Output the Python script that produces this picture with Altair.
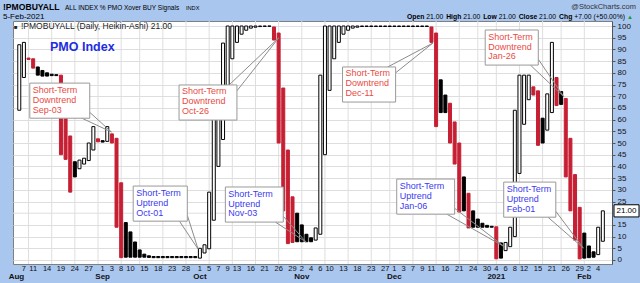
import altair as alt
import pandas as pd

FONT = "Liberation Sans"
RED = "#c61f33"
ANN_RED = "#ea4a3f"
ANN_BLUE = "#3b3bef"
BG = "#a9c6ef"
GRID = "#dedede"

W, H = 599, 243
PAD_L, PAD_T, PAD_R, PAD_B = 13, 21, 28, 19

# ---------------- data (Heikin-Ashi open / close, kind: H hollow, R red, B black) -------------
aug_dates = [6, 7, 10, 11, 12, 13, 14, 17, 18, 19, 20, 21, 24, 25, 26, 27, 28, 31]
aug_open = [64, 78, 86.3, 86, 82.5, 81, 80, 79.4, 79.2, 79, 62, 53, 42, 39, 41, 42.5, 47, 51.8]
aug_close = [92, 93, 85.7, 82, 79, 78.6, 78.6, 78.8, 78.8, 45, 43, 29, 35.5, 42.7, 43.5, 50, 57, 50.5]
aug_kind = "HHRRBBBBBRRRBHHHHR"

sep_dates = [1, 2, 3, 4, 8, 9, 10, 11, 14, 15, 16, 17, 18, 21, 22, 23, 24, 25, 28, 29, 30]
sep_open = [51, 50.7, 53.9, 52, 33, 16, 12, 7.7, 4.3, 2.5, 1.8, 1.5, 1.5, 1.5, 1.5, 1.5, 1.5, 1.5, 1.5, 1.5, 1.5]
sep_close = [50.4, 57, 50, 14, 1, 1.2, 1.2, 1.2, 1.2, 1.2, 1.1, 1, 1, 1, 1, 1, 1, 1, 1, 1, 1]
sep_kind = "BHRRRBBBBBBBBBBBBBBBB"

oct_dates = [1, 2, 5, 6, 7, 8, 9, 12, 13, 14, 15, 16, 19, 20, 21, 22, 23, 26, 27, 28, 29, 30]
oct_open = [0.8, 3, 4.8, 17, 40, 51.5, 72, 86, 93, 96.5, 98.2, 99.1, 99.5, 99.75, 99.85, 99.9, 99.6, 97, 73.5, 47, 27, 20]
oct_close = [5, 6.5, 29, 63, 63, 92.7, 100, 100, 100, 100, 100, 100, 100, 100, 100, 100, 94, 50, 21, 7, 7.5, 7.8]
oct_kind = "HHHHHHHHHHHHHHBBRRRRRB"

nov_dates = [2, 3, 4, 5, 6, 9, 10, 11, 12, 13, 16, 17, 18, 19, 20, 23, 24, 25, 27, 30]
nov_open = [15, 11, 9.5, 8.5, 11, 45, 72.5, 86, 93, 96.5, 98.2, 99.1, 99.5, 99.8, 99.8, 99.8, 99.8, 99.8, 99.8, 99.8]
nov_close = [7.8, 7.8, 7.8, 13.7, 79, 100, 100, 100, 100, 100, 100, 100, 100, 100, 100, 100, 100, 100, 100, 100]
nov_kind = "BBBHHHHHHHHHHBBBBBBB"

dec_dates = [1, 2, 3, 4, 7, 8, 9, 10, 11, 14, 15, 16, 17, 18, 21, 22, 23, 24, 28, 29, 30, 31]
dec_open = [99.8, 99.8, 99.8, 99.8, 99.8, 99.8, 99.8, 99.8, 99.6, 97, 77, 70.5, 67, 59, 50, 35.5, 28.5, 21, 17.5, 15.7, 14.8, 14.4]
dec_close = [100, 100, 100, 100, 100, 100, 100, 100, 93, 57, 63, 63, 50, 41, 20.5, 21, 13.7, 14, 14, 14, 14, 14]
dec_kind = "BBBBBBBBRRBBRRRBRBBBBB"

jan_dates = [4, 5, 6, 7, 8, 11, 12, 13, 14, 15, 19, 20, 21, 22, 25, 26, 27, 28, 29]
jan_open = [14.2, 7.3, 4, 5.7, 10, 37, 58, 68.5, 74, 72.3, 60.6, 55.5, 63, 78, 72, 69, 52, 36.5, 22.5]
jan_close = [0.5, 0.8, 7.5, 14, 64, 79, 79, 79, 70.5, 49, 50, 71, 93, 66, 66.5, 35.5, 21, 8.5, 0.5]
jan_kind = "RBHHHHHHRRBHHRBRRRR"

feb_dates = [1, 2, 3, 4, 5]
feb_open = [11.5, 6, 3.5, 2.3, 8]
feb_close = [0.8, 1, 1.2, 14, 21]
feb_kind = "BBBHH"

tick_days = {
    "Aug": [7, 11, 14, 19, 24, 27],
    "Sep": [1, 3, 8, 10, 15, 18, 23, 28],
    "Oct": [1, 5, 7, 9, 13, 16, 21, 26, 29],
    "Nov": [2, 4, 6, 10, 13, 18, 23, 27],
    "Dec": [1, 3, 7, 9, 11, 16, 21, 24, 30],
    "Jan": [4, 6, 8, 12, 15, 21, 26, 29],
    "Feb": [2, 4],
}
month_names = {"Aug": "Aug", "Sep": "Sep", "Oct": "Oct", "Nov": "Nov", "Dec": "Dec", "Jan": "2021", "Feb": "Feb"}
y_ticks = [0, 5, 10, 15, 25, 30, 35, 40, 45, 50, 55, 60, 65, 70, 75, 80, 85, 90, 95, 100]

ann_date = ["Sep-03", "Oct-01", "Oct-26", "Nov-03", "Dec-11", "Jan-06", "Jan-26", "Feb-01"]
ann_trend = ["Downtrend", "Uptrend", "Downtrend", "Uptrend", "Downtrend", "Uptrend", "Downtrend", "Uptrend"]
ann_left = [1.27, 23.6, 33.5, 43.5, 68.8, 80.5, 99.6, 103.6]
ann_top = [75.6, 31.6, 74.8, 31.2, 82.5, 34.6, 98.3, 33.3]
ann_width = [12.95, 11.68, 12.5, 12.5, 11.46, 12.5, 11.46, 11.25]
ann_corner = ["br", "br", "tr", "br", "tr", "br", "br", "br"]
ann_tip_i = [18.9, 37.6, 55.0, 60.9, 88.3, 103.8, 116.6, 120.8]
ann_tip_v = [54.7, 4.7, 94.9, 7.7, 92.7, 5.6, 69.7, 5.1]
BOX_H = 15.0

last_close = 21.0

# ---------------- tables ----------------
meta = [
    ("Aug", 2020, 8, aug_dates, aug_open, aug_close, aug_kind),
    ("Sep", 2020, 9, sep_dates, sep_open, sep_close, sep_kind),
    ("Oct", 2020, 10, oct_dates, oct_open, oct_close, oct_kind),
    ("Nov", 2020, 11, nov_dates, nov_open, nov_close, nov_kind),
    ("Dec", 2020, 12, dec_dates, dec_open, dec_close, dec_kind),
    ("Jan", 2021, 1, jan_dates, jan_open, jan_close, jan_kind),
    ("Feb", 2021, 2, feb_dates, feb_open, feb_close, feb_kind),
]
rows = []
for mon, yr, mo, ds, op, cl, kd in meta:
    for d, o, c, k in zip(ds, op, cl, kd):
        rows.append(dict(mon=mon, day=d, date=pd.Timestamp(yr, mo, d), o=o, c=c, k=k))
df = pd.DataFrame(rows)
df["i"] = list(range(-1, len(df) - 1))
idx = {(m, d): i for m, d, i in zip(df["mon"], df["day"], df["i"])}

ticks_df = pd.DataFrame([{"i": idx[(m, d)], "lab": str(d)} for m, ds in tick_days.items() for d in ds])
first = df.groupby("mon", sort=False)["i"].min()
mpos = [float(v) for v in first.values]
mpos[0] = mpos[0] - 0.6   # "Aug" sits at the left edge
months_df = pd.DataFrame({"i": mpos, "lab": [month_names[m] for m in first.index]})
df["wk"] = df["date"].dt.isocalendar().week.astype(int)
weeks_df = df[df["wk"] != df["wk"].shift()].iloc[1:][["i"]]

boxes, ptrs, texts = [], [], []
for n in range(len(ann_date)):
    l, t, w = ann_left[n], ann_top[n], ann_width[n]
    r, b = l + w, t - BOX_H
    kind = "down" if ann_trend[n] == "Downtrend" else "up"
    boxes.append(dict(x=l, x2=r, y=t, y2=b))
    if ann_corner[n] == "br":
        pa, pb = (r - 1.7, b), (r, b + 2.5)
    else:
        pa, pb = (r - 1.7, t), (r, t - 2.5)
    for p in (pa, pb):
        ptrs.append(dict(x=p[0], y=p[1], x2=ann_tip_i[n], y2=ann_tip_v[n]))
    for k, s in enumerate(["Short-Term", ann_trend[n], ann_date[n]]):
        texts.append(dict(x=l + 0.64, y=t - 4.27 * (k + 1) + 0.2, s=s, kind=kind))
boxes_df = pd.DataFrame(boxes)
ptr_df = pd.DataFrame(ptrs)
text_df = pd.DataFrame(texts)

# ---------------- chart ----------------
xs = alt.Scale(domain=[-1.274, 125.9], nice=False, zero=False)
ys = alt.Scale(domain=[-1.71, 102.14], nice=False, zero=False)
y_axis = alt.Axis(orient="right", values=y_ticks, grid=True, gridColor=GRID,
                  tickSize=3, tickColor="#555555", domainColor="#555555", labelFontSize=8,
                  labelFont=FONT, labelColor="#111111", labelPadding=2, title=None)


def X(f):
    return alt.X(f, scale=xs, axis=None)


def Y(f):
    return alt.Y(f, scale=ys, axis=y_axis)


vgrid = alt.Chart(weeks_df).mark_rule(color=GRID, strokeWidth=1).encode(x=X("i:Q"))
hgrid = alt.Chart(pd.DataFrame({"v": [20]})).mark_rule(color=GRID, strokeWidth=1).encode(y=Y("v:Q"))

candles = alt.Chart(df).mark_bar(width=3, strokeWidth=1, clip=True).encode(
    x=X("i:Q"), y=Y("o:Q"), y2="c:Q",
    fill=alt.Fill("k:N", scale=alt.Scale(domain=["H", "R", "B"], range=["#ffffff", RED, "#000000"]), legend=None),
    stroke=alt.Stroke("k:N", scale=alt.Scale(domain=["H", "R", "B"], range=["#000000", RED, "#000000"]), legend=None),
)

pointers = alt.Chart(ptr_df).mark_rule(color="#8c8c8c", strokeWidth=1).encode(
    x=X("x:Q"), y=Y("y:Q"), x2="x2:Q", y2="y2:Q")
shadow = alt.Chart(boxes_df).mark_rect(fill="#b4b4b4", xOffset=2, yOffset=2).encode(
    x=X("x:Q"), x2="x2:Q", y=Y("y:Q"), y2="y2:Q")
box = alt.Chart(boxes_df).mark_rect(fill="white", stroke="#9a9a9a", strokeWidth=1).encode(
    x=X("x:Q"), x2="x2:Q", y=Y("y:Q"), y2="y2:Q")
ann_text = alt.Chart(text_df).mark_text(align="left", baseline="alphabetic", fontSize=9, font=FONT).encode(
    x=X("x:Q"), y=Y("y:Q"), text="s:N",
    color=alt.Color("kind:N", scale=alt.Scale(domain=["down", "up"], range=[ANN_RED, ANN_BLUE]), legend=None))

day_labels = alt.Chart(ticks_df).mark_text(fontSize=7.5, font=FONT, baseline="alphabetic", color="#111111").encode(
    x=X("i:Q"), y=alt.value(250), text="lab:N")
month_labels = alt.Chart(months_df).mark_text(fontSize=8, font=FONT, fontWeight="bold", baseline="alphabetic",
                                              color="#111111").encode(x=X("i:Q"), y=alt.value(258), text="lab:N")

last_df = pd.DataFrame({"v": [last_close]})
last_box = alt.Chart(last_df).transform_calculate(top="datum.v + 2.6", bot="datum.v - 2.6").mark_rect(
    fill="white", stroke="#000000", strokeWidth=1).encode(
    x=alt.value(W + 2), x2=alt.value(W + 27), y=Y("top:Q"), y2="bot:Q")
last_txt = alt.Chart(last_df).mark_text(fontSize=8, font=FONT, color="#000000").encode(
    x=alt.value(W + 14.5), y=Y("v:Q"), text=alt.Text("v:Q", format=".2f"))

one = pd.DataFrame({"a": [0]})


def label(s, ax, ay, size, bold=False, color="#000000", align="left"):
    return alt.Chart(one).mark_text(text=s, fontSize=size, font=FONT, fontWeight="bold" if bold else "normal",
                                    color=color, align=align, baseline="alphabetic").encode(
        x=alt.value(ax - PAD_L), y=alt.value(ay - PAD_T))


header = [
    label("!PMOBUYALL", 3, 10, 8.6, True),
    label("ALL INDEX % PMO Xover BUY Signals", 65, 10, 6.5),
    label("INDX", 186, 10, 5.6),
    label("@StockCharts.com", 636, 9, 7.5, color="#333333", align="right"),
    label("5-Feb-2021", 3, 19, 8),
    label("Open", 407, 19, 6.8, True), label("21.00", 426.2, 19, 6.8),
    label("High", 446.2, 19, 6.8, True), label("21.00", 463.2, 19, 6.8),
    label("Low", 483.2, 19, 6.8, True), label("21.00", 498.7, 19, 6.8),
    label("Close", 518.7, 19, 6.8, True), label("21.00", 539.1, 19, 6.8),
    label("Chg", 559.1, 19, 6.8, True), label("+7.00 (+50.00%)", 574.3, 19, 6.8),
    label("\u25b2", 627, 19, 6, color="#1d9a2a"),
    label("\u25a0", 14, 29, 6, color="#222222"),
    label("!PMOBUYALL (Daily, Heikin-Ashi) 21.00", 21, 29, 8.5, color="#222222"),
    label("PMO Index", 50, 51, 12.5, True, color="#1e2de0"),
]

chart = alt.layer(
    vgrid, hgrid, candles, pointers, shadow, box, ann_text, day_labels, month_labels, last_box, last_txt, *header
).properties(
    width=W, height=H,
    padding={"left": PAD_L, "top": PAD_T, "right": PAD_R, "bottom": PAD_B},
    autosize=alt.AutoSizeParams(type="none"),
    background=BG,
).configure_view(fill="white", stroke="#7f7f7f", strokeWidth=1)

chart.save("out.html", embed_options={"renderer": "svg", "actions": False})
